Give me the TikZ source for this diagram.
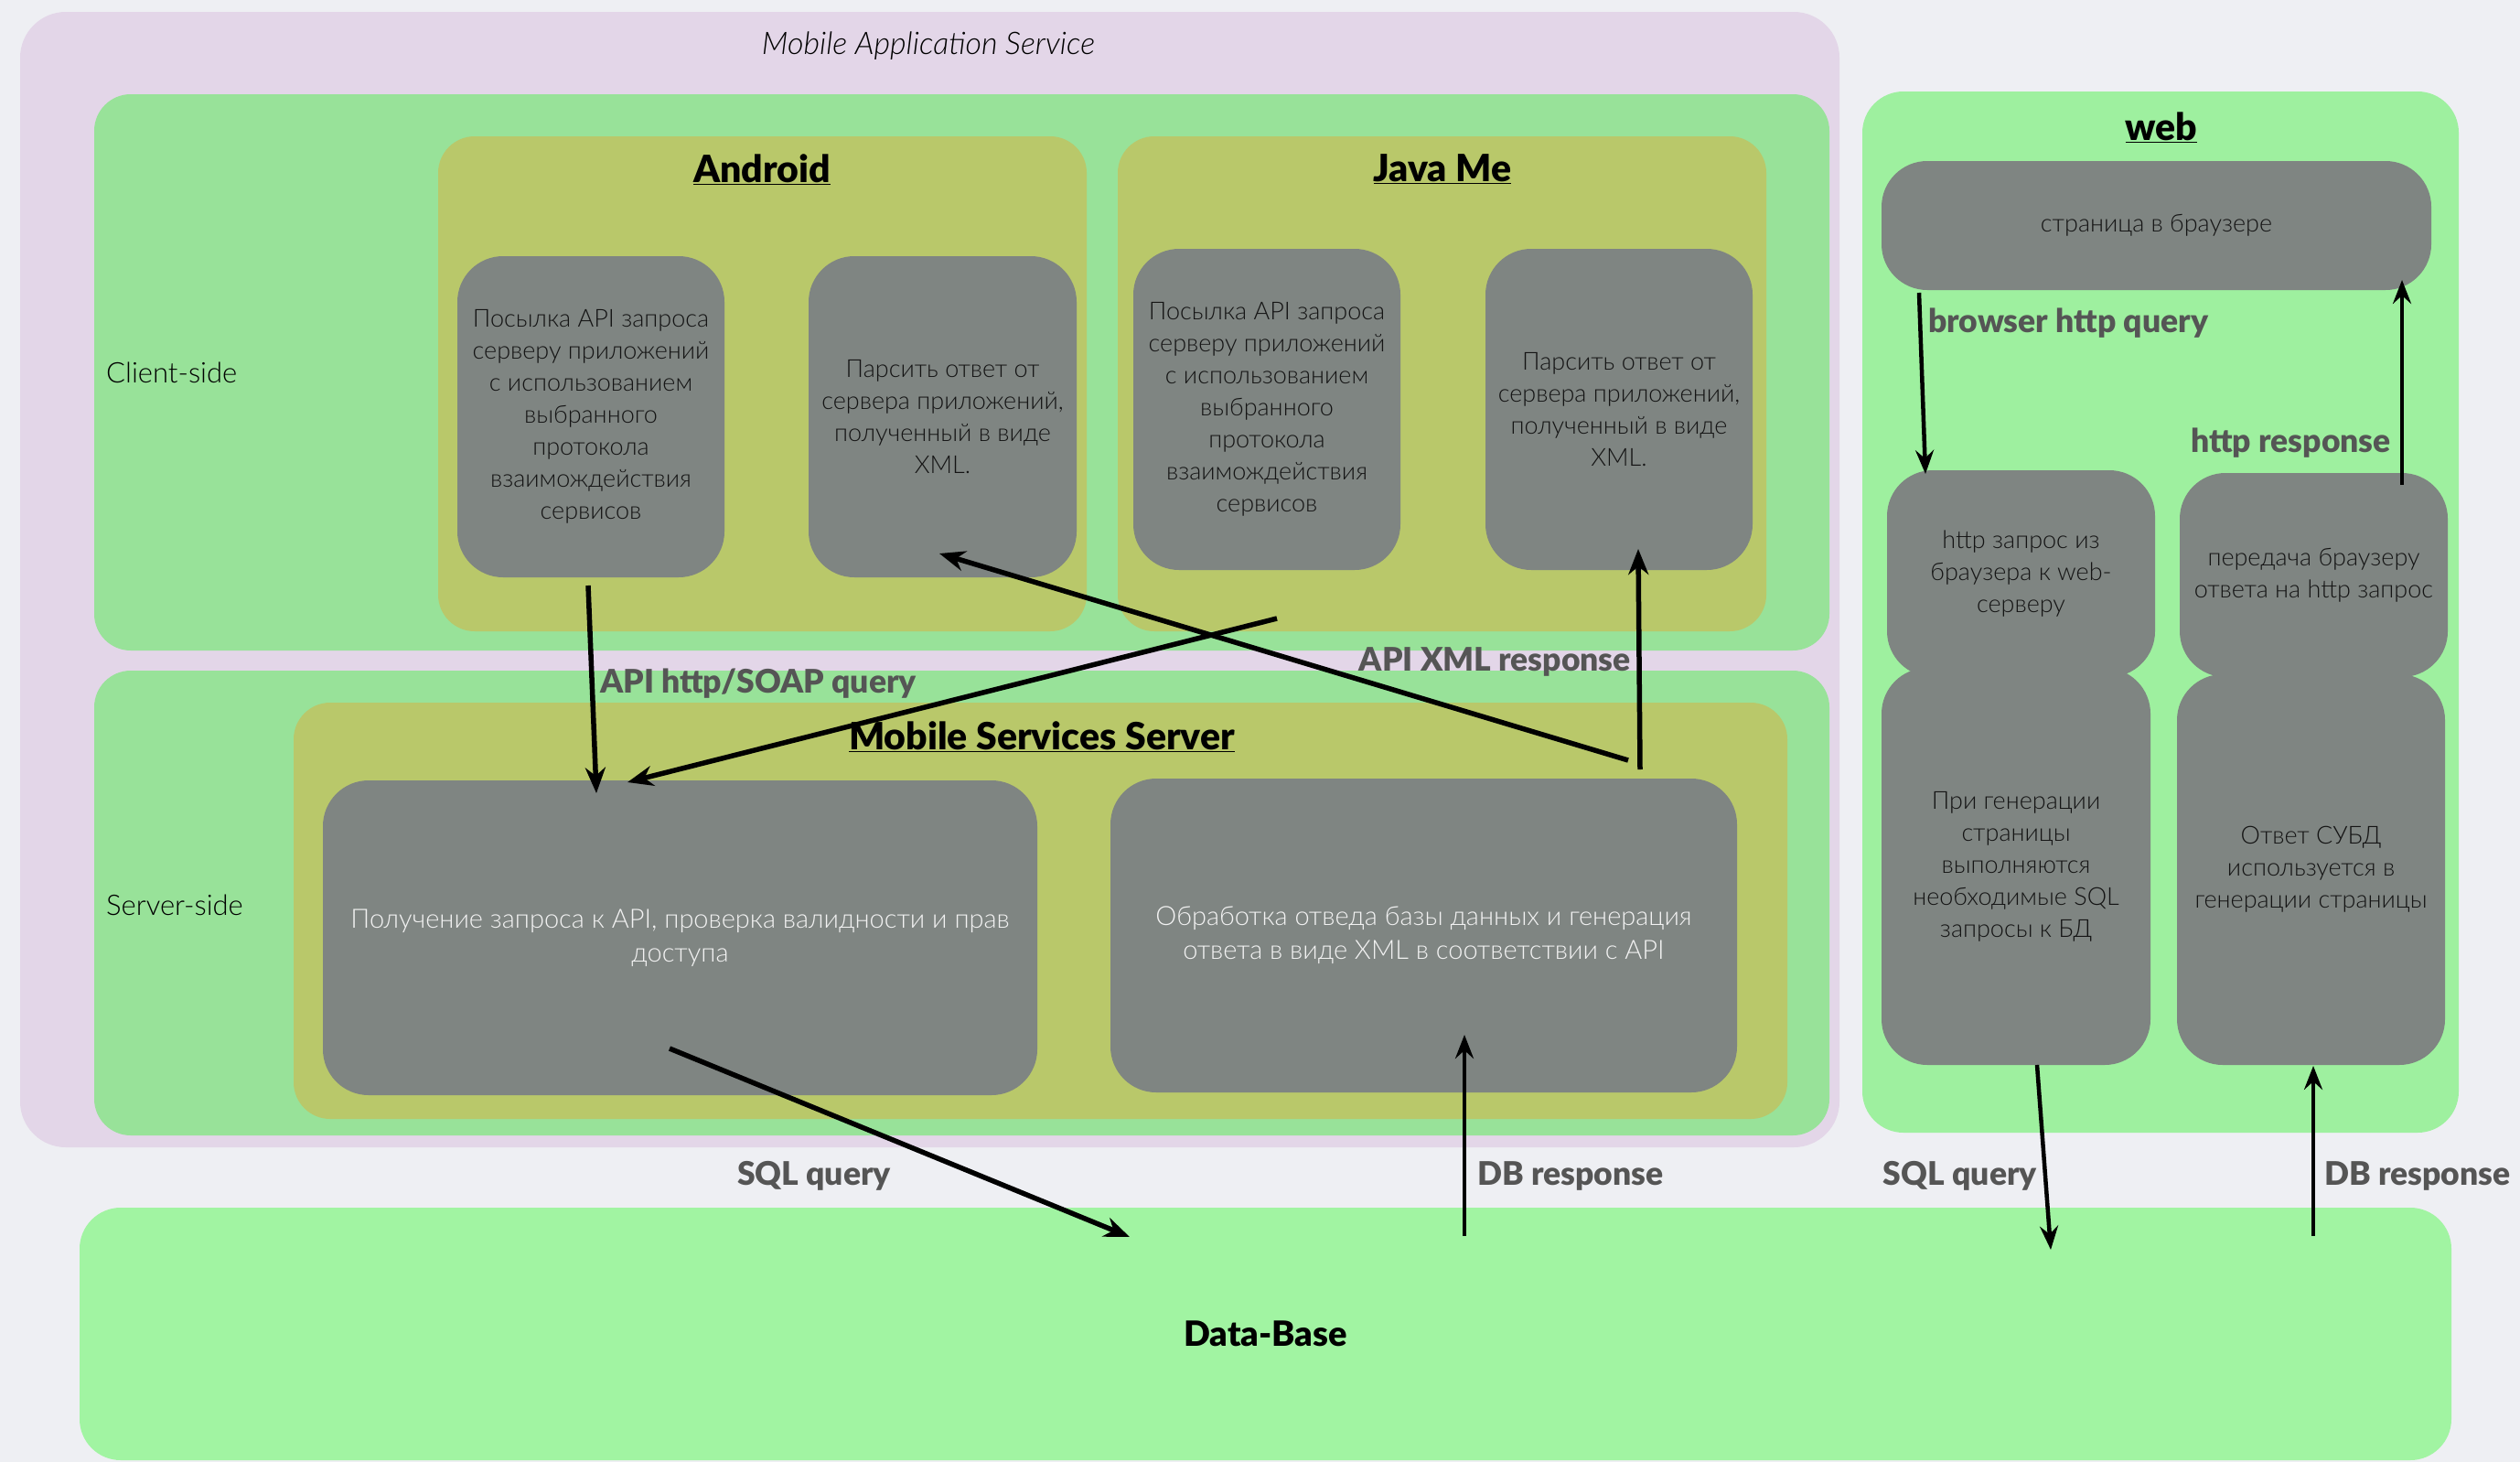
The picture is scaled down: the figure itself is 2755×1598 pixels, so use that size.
\documentclass[tikz,border=0pt]{standalone}
\usepackage{fontspec}
\setmainfont{Lato}
\newfontfamily\lightfont{Lato Light}
\newfontfamily\heavyfont{Lato Black}
\usetikzlibrary{arrows.meta}
\definecolor{bgc}{HTML}{EEEFF3}
\definecolor{purplec}{HTML}{E3D6E8}
\definecolor{greenc}{HTML}{98E299}
\definecolor{olivec}{HTML}{B9C86A}
\definecolor{grayc}{HTML}{7F8582}
\definecolor{webc}{HTML}{9EF09F}
\definecolor{dbc}{HTML}{A1F4A2}
\definecolor{labelc}{HTML}{555555}
\definecolor{darktext}{HTML}{141414}
\definecolor{lighttext}{HTML}{F2F2F2}
\newcommand{\bx}[7]{%
  \pgfmathsetmacro{\bxcx}{(#3+#5)/2}\pgfmathsetmacro{\bxcy}{(#4+#6)/2}%
  \pgfmathsetmacro{\bxw}{#5-#3}\pgfmathsetmacro{\bxh}{#6-#4}%
  \node[#2, minimum width=\bxw pt, minimum height=\bxh pt] (#1) at (\bxcx,\bxcy) {#7};}
\tikzset{
  basebox/.style={inner sep=0pt, outer sep=0pt, draw=none, align=center},
  purplebox/.style={basebox, fill=purplec, rounded corners=50pt},
  greenbox/.style={basebox, fill=greenc, rounded corners=40pt},
  olivebox/.style={basebox, fill=olivec, rounded corners=40pt},
  webbox/.style={basebox, fill=webc, rounded corners=45pt},
  dbbox/.style={basebox, fill=dbc, rounded corners=45pt, font=\fontsize{38}{42}\selectfont\heavyfont},
  graybox/.style={basebox, fill=grayc, rounded corners=50pt, text=darktext, font=\fontsize{27}{35}\selectfont\lightfont},
  srvbox/.style={graybox, text=lighttext, font=\fontsize{29}{37}\selectfont\lightfont},
  title/.style={inner sep=0pt, font=\fontsize{41}{46}\selectfont\heavyfont},
  lbl/.style={inner sep=0pt, text=labelc, font=\fontsize{35.5}{40}\selectfont\heavyfont},
  side/.style={inner sep=0pt, anchor=west, font=\fontsize{31}{34}\selectfont\lightfont},
  arr/.style={line width=5.5pt, -{Stealth[length=28pt,width=22pt,inset=9pt]}},
  warr/.style={line width=4.5pt, -{Stealth[length=26pt,width=20pt,inset=9pt]}}
}
\begin{document}
\begin{tikzpicture}[x=1pt,y=-1pt]
\fill[bgc] (0,0) rectangle (2755,1598);
\useasboundingbox (0,0) rectangle (2755,1598);
% containers
\bx{mas}{purplebox}{22}{13}{2011}{1254}{}
\bx{client}{greenbox}{103}{103}{2000}{711}{}
\bx{server}{greenbox}{103}{733}{2000}{1241}{}
\bx{android}{olivebox}{479}{149}{1188}{690}{}
\bx{javame}{olivebox}{1222}{149}{1931}{690}{}
\bx{mss}{olivebox}{321}{768}{1954}{1223}{}
\bx{web}{webbox}{2036}{100}{2688}{1238}{}
\bx{db}{dbbox}{87}{1320}{2680}{1596}{Data-Base}
% titles and side labels
\node[inner sep=0pt, font=\fontsize{34}{38}\selectfont\lightfont\itshape] (mastitle) at (1015,50) {Mobile Application Service};
\node[side] (clientlbl) at (116,407) {Client-side};
\node[side] (serverlbl) at (116,989) {Server-side};
\node[title] (andtitle) at (833,185) {\underline{Android}};
\node[title] (javtitle) at (1577,185) {\underline{Java Me}};
\node[title] (msstitle) at (1139,805) {\underline{Mobile Services Server}};
\node[title] (webtitle) at (2363,139) {\underline{web}};
% client boxes
\bx{andL}{graybox}{500}{280}{792}{631}{Посылка API запроса\\серверу приложений\\с использованием\\выбранного\\протокола\\взаимождействия\\сервисов}
\bx{andR}{graybox}{884}{280}{1177}{631}{Парсить ответ от\\сервера приложений,\\полученный в виде\\XML.}
\bx{javL}{graybox}{1239}{272}{1531}{623}{Посылка API запроса\\серверу приложений\\с использованием\\выбранного\\протокола\\взаимождействия\\сервисов}
\bx{javR}{graybox}{1624}{272}{1916}{623}{Парсить ответ от\\сервера приложений,\\полученный в виде\\XML.}
% server boxes
\bx{srvL}{srvbox}{353}{853}{1134}{1197}{Получение запроса к API, проверка валидности и прав\\доступа}
\bx{srvR}{srvbox}{1214}{851}{1899}{1194}{Обработка отведа базы данных и генерация\\ответа в виде XML в соответствии с API}
% web boxes
\bx{page}{graybox}{2057}{176}{2658}{317}{страница в браузере}
\bx{wq}{graybox}{2063}{514}{2356}{740}{http запрос из\\браузера к web-\\серверу}
\bx{wr}{graybox}{2383}{517}{2676}{740}{передача браузеру\\ответа на http запрос}
\bx{wsql}{graybox}{2057}{730}{2351}{1164}{При генерации\\страницы\\выполняются\\необходимые SQL\\запросы к БД}
\bx{wdb}{graybox}{2380}{737}{2673}{1164}{Ответ СУБД\\используется в\\генерации страницы}
% connector labels
\node[lbl, anchor=west] (l1) at (656,747) {API http/SOAP query};
\node[lbl, anchor=east] (l2) at (1783,723) {API XML response};
\node[lbl] (l3) at (890,1285) {SQL query};
\node[lbl, anchor=west] (l4) at (1615,1285) {DB response};
\node[lbl, anchor=west] (l5) at (2108,353) {browser http query};
\node[lbl, anchor=east] (l6) at (2614,484) {http response};
\node[lbl, anchor=east] (l7) at (2227,1285) {SQL query};
\node[lbl, anchor=west] (l8) at (2541,1285) {DB response};
% connector end points
\coordinate (a1s) at (643,640);  \coordinate (a1e) at (652,867);
\coordinate (a2s) at (1396,676); \coordinate (a2e) at (686,855);
\coordinate (a3s) at (1780,831); \coordinate (a3e) at (1027,605);
\coordinate (a4s) at (1793,841); \coordinate (a4e) at (1791,600);
\coordinate (a5s) at (732,1146); \coordinate (a5e) at (1235,1352);
\coordinate (a6s) at (1601,1351); \coordinate (a6e) at (1601,1131);
\coordinate (a7s) at (2098,320); \coordinate (a7e) at (2105,518);
\coordinate (a8s) at (2626,530); \coordinate (a8e) at (2626,306);
\coordinate (a9s) at (2227,1164); \coordinate (a9e) at (2242,1366);
\coordinate (a10s) at (2529,1351); \coordinate (a10e) at (2529,1165);
% connectors
\draw[arr] (a1s) -- (a1e);
\draw[arr] (a2s) -- (a2e);
\draw[arr] (a3s) -- (a3e);
\draw[arr] (a4s) -- (a4e);
\draw[arr] (a5s) -- (a5e);
\draw[warr] (a6s) -- (a6e);
\draw[warr] (a7s) -- (a7e);
\draw[warr] (a8s) -- (a8e);
\draw[warr] (a9s) -- (a9e);
\draw[warr] (a10s) -- (a10e);
\end{tikzpicture}
\end{document}
